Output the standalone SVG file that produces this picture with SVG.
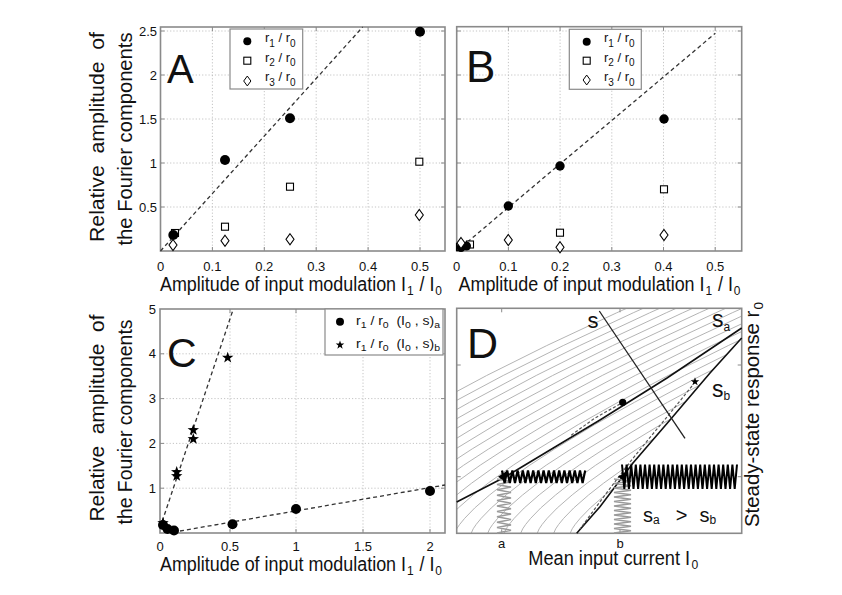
<svg xmlns="http://www.w3.org/2000/svg" xmlns:xlink="http://www.w3.org/1999/xlink" width="842" height="595" viewBox="0 0 842 595">
<style>
.t{font-family:"Liberation Sans",Arial,Helvetica,sans-serif;fill:#111}
.tick{font-size:13px}
.lab{font-size:19.5px}
.leg{font-size:13px}
.frame{fill:none;stroke:#8a8a8a;stroke-width:1.6}
.tk{fill:none;stroke:#8a8a8a;stroke-width:1}
.grid{fill:none;stroke:#b5b5b5;stroke-width:0.8;stroke-dasharray:1.2,2}
.fit{fill:none;stroke:#333;stroke-width:1.3;stroke-dasharray:4,3}
.dot{fill:#000}
.open{fill:#fff;stroke:#000;stroke-width:1.1}
.lbox{fill:#fff;stroke:#8a8a8a;stroke-width:1.2}
.gc{fill:none;stroke:#b4b4b4;stroke-width:1}
</style>
<defs>
<path id="star" d="M0,-6 L1.41,-1.94 L5.71,-1.86 L2.28,0.74 L3.53,4.85 L0,2.4 L-3.53,4.85 L-2.28,0.74 L-5.71,-1.86 L-1.41,-1.94 Z"/>
<path id="dia" d="M0,-5.5 L4,0 L0,5.5 L-4,0 Z"/>
<rect id="sq" x="-3.5" y="-3.5" width="7" height="7"/>
<polyline id="gcurve" points="0,0 2,-4.5 5,-8.9 10,-15 20,-25.3 35,-38.4 50,-50.2 75,-68.1 100,-84.4 140,-108.7 180,-131.1 230,-157.8 290,-187.7 360,-220.5 440,-256.5 500,-282.3"/>
<clipPath id="clipD"><polygon points="456.7,308.3 741.7,308.3 741.7,338 710,373 670,420 633,463 600,506.7 576.7,533.3 456.7,533.3"/></clipPath>
</defs>
<rect width="842" height="595" fill="#fff"/>

<!-- Panel A -->
<g id="panelA">
<path class="grid" d="M212.4,27V251M264.3,27V251M316.2,27V251M368.1,27V251M420,27V251M160.5,207H445M160.5,163H445M160.5,119H445M160.5,75H445M160.5,31H445"/>
<path class="tk" d="M212.4,251v-4M264.3,251v-4M316.2,251v-4M368.1,251v-4M420,251v-4M212.4,27v4M264.3,27v4M316.2,27v4M368.1,27v4M420,27v4M160.5,207h4M160.5,163h4M160.5,119h4M160.5,75h4M160.5,31h4M445,207h-4M445,163h-4M445,119h-4M445,75h-4M445,31h-4"/>
<rect class="frame" x="160.5" y="27" width="284.5" height="224"/>
<path class="fit" d="M160.5,251 L362.7,27"/>
<use href="#sq" class="open" x="175" y="233"/>
<use href="#sq" class="open" x="225" y="226.7"/>
<use href="#sq" class="open" x="290" y="186.7"/>
<use href="#sq" class="open" x="419.3" y="161.7"/>
<circle class="dot" cx="173.3" cy="235" r="5"/>
<circle class="dot" cx="225" cy="160" r="5"/>
<circle class="dot" cx="290" cy="118.3" r="5"/>
<circle class="dot" cx="420" cy="31.7" r="5"/>
<use href="#dia" class="open" x="173" y="245"/>
<use href="#dia" class="open" x="225" y="240.7"/>
<use href="#dia" class="open" x="290" y="239.3"/>
<use href="#dia" class="open" x="419.3" y="215"/>
<g id="legendA">
<rect class="lbox" x="230" y="29" width="72.7" height="60"/>
<circle class="dot" cx="247.3" cy="41.3" r="4"/>
<use href="#sq" class="open" x="247.3" y="60.7"/>
<use href="#dia" class="open" transform="translate(247.3,81) scale(0.9)"/>
<text class="t leg" x="265" y="42">r<tspan font-size="10" dy="4.5">1</tspan><tspan dy="-4.5"> / r</tspan><tspan font-size="10" dy="4.5">0</tspan></text>
<text class="t leg" x="265" y="61.5">r<tspan font-size="10" dy="4.5">2</tspan><tspan dy="-4.5"> / r</tspan><tspan font-size="10" dy="4.5">0</tspan></text>
<text class="t leg" x="265" y="81">r<tspan font-size="10" dy="4.5">3</tspan><tspan dy="-4.5"> / r</tspan><tspan font-size="10" dy="4.5">0</tspan></text>
</g>
<text class="t" x="167" y="82.7" font-size="40">A</text>
<g class="t tick" text-anchor="middle">
<text x="160.5" y="271">0</text><text x="212.4" y="271">0.1</text><text x="264.3" y="271">0.2</text><text x="316.2" y="271">0.3</text><text x="368.1" y="271">0.4</text><text x="420" y="271">0.5</text>
</g>
<g class="t tick" text-anchor="end">
<text x="157" y="211.5">0.5</text><text x="157" y="167.5">1</text><text x="157" y="123.5">1.5</text><text x="157" y="79.5">2</text><text x="157" y="35.5">2.5</text>
</g>
<text class="t lab" xml:space="preserve" transform="translate(103.5,137) rotate(-90)" text-anchor="middle" textLength="210" lengthAdjust="spacingAndGlyphs">Relative  amplitude  of</text>
<text class="t lab" transform="translate(131.5,139) rotate(-90)" text-anchor="middle" textLength="213" lengthAdjust="spacingAndGlyphs">the Fourier components</text>
<text class="t lab" x="301" y="290.5" text-anchor="middle" textLength="282" lengthAdjust="spacingAndGlyphs">Amplitude of input modulation I<tspan font-size="13" dy="4" dx="1">1</tspan><tspan dy="-4" dx="1"> / I</tspan><tspan font-size="13" dy="4" dx="1">0</tspan></text>
</g>

<!-- Panel B -->
<g id="panelB">
<path class="grid" d="M508.4,26.7V251M560.1,26.7V251M611.8,26.7V251M663.5,26.7V251M715.2,26.7V251M456.7,207H741.7M456.7,163H741.7M456.7,119H741.7M456.7,75H741.7M456.7,31H741.7"/>
<path class="tk" d="M508.4,251v-4M560.1,251v-4M611.8,251v-4M663.5,251v-4M715.2,251v-4M508.4,26.7v4M560.1,26.7v4M611.8,26.7v4M663.5,26.7v4M715.2,26.7v4M456.7,207h4M456.7,163h4M456.7,119h4M456.7,75h4M456.7,31h4M741.7,207h-4M741.7,163h-4M741.7,119h-4M741.7,75h-4M741.7,31h-4"/>
<rect class="frame" x="456.7" y="26.7" width="285" height="224.3"/>
<path class="fit" d="M456.7,251 L715.3,33.3"/>
<use href="#sq" class="open" x="560" y="232.7"/>
<use href="#sq" class="open" x="664" y="189.3"/>
<use href="#sq" class="open" x="460" y="247"/>
<use href="#sq" class="open" x="470" y="244.5"/>
<circle class="dot" cx="508.3" cy="206" r="4.7"/>
<circle class="dot" cx="560" cy="166" r="4.7"/>
<circle class="dot" cx="664" cy="119" r="4.7"/>
<circle class="dot" cx="461" cy="247.5" r="4.5"/>
<circle class="dot" cx="466.5" cy="246" r="4.5"/>
<use href="#dia" class="open" x="508.3" y="240"/>
<use href="#dia" class="open" x="560" y="247.3"/>
<use href="#dia" class="open" x="664" y="235"/>
<use href="#dia" class="open" x="461" y="243"/>
<g id="legendB">
<rect class="lbox" x="569.3" y="29.3" width="72" height="60"/>
<circle class="dot" cx="586.7" cy="41.7" r="4"/>
<use href="#sq" class="open" x="586.7" y="60.7"/>
<use href="#dia" class="open" transform="translate(586.7,80) scale(0.9)"/>
<text class="t leg" x="604" y="42">r<tspan font-size="10" dy="4.5">1</tspan><tspan dy="-4.5"> / r</tspan><tspan font-size="10" dy="4.5">0</tspan></text>
<text class="t leg" x="604" y="61.5">r<tspan font-size="10" dy="4.5">2</tspan><tspan dy="-4.5"> / r</tspan><tspan font-size="10" dy="4.5">0</tspan></text>
<text class="t leg" x="604" y="81">r<tspan font-size="10" dy="4.5">3</tspan><tspan dy="-4.5"> / r</tspan><tspan font-size="10" dy="4.5">0</tspan></text>
</g>
<text class="t" x="466" y="81.7" font-size="44">B</text>
<g class="t tick" text-anchor="middle">
<text x="456.7" y="271">0</text><text x="508.4" y="271">0.1</text><text x="560.1" y="271">0.2</text><text x="611.8" y="271">0.3</text><text x="663.5" y="271">0.4</text><text x="715.2" y="271">0.5</text>
</g>
<text class="t lab" x="599.5" y="290.5" text-anchor="middle" textLength="282" lengthAdjust="spacingAndGlyphs">Amplitude of input modulation I<tspan font-size="13" dy="4" dx="1">1</tspan><tspan dy="-4" dx="1"> / I</tspan><tspan font-size="13" dy="4" dx="1">0</tspan></text>
</g>

<!-- Panel C -->
<g id="panelC">
<path class="grid" d="M230,309V533M296,309V533M363,309V533M430,309V533M160,488.2H445M160,443.4H445M160,398.6H445M160,353.8H445"/>
<path class="tk" d="M230,533v-4M296,533v-4M363,533v-4M430,533v-4M230,309v4M296,309v4M363,309v4M430,309v4M160,488.2h4M160,443.4h4M160,398.6h4M160,353.8h4M445,488.2h-4M445,443.4h-4M445,398.6h-4M445,353.8h-4"/>
<rect class="frame" x="160" y="309" width="285" height="224"/>
<path class="fit" d="M160,528 L233.3,309"/>
<path class="fit" d="M180,531 L445,485"/>
<circle class="dot" cx="163" cy="525" r="5"/>
<circle class="dot" cx="167.5" cy="529" r="5"/>
<circle class="dot" cx="174" cy="530.5" r="5"/>
<circle class="dot" cx="232.5" cy="524.3" r="5"/>
<circle class="dot" cx="296" cy="509" r="5"/>
<circle class="dot" cx="430" cy="491" r="5"/>
<use href="#star" x="163" y="523"/>
<use href="#star" x="176.7" y="476"/>
<use href="#star" x="176.7" y="472"/>
<use href="#star" x="193.3" y="439"/>
<use href="#star" x="193.3" y="430"/>
<use href="#star" x="227.7" y="357.7"/>
<g id="legendC">
<rect class="lbox" x="325" y="309" width="118" height="46"/>
<circle class="dot" cx="340" cy="321.7" r="4"/>
<use href="#star" transform="translate(340,345) scale(0.75)"/>
<text class="t" font-size="12" x="356" y="325" xml:space="preserve" textLength="84" lengthAdjust="spacingAndGlyphs">r<tspan font-size="9" dy="3">1</tspan><tspan dy="-3"> / r</tspan><tspan font-size="9" dy="3">0</tspan><tspan dy="-3">  (I</tspan><tspan font-size="9" dy="3">0</tspan><tspan dy="-3"> , s)</tspan><tspan font-size="9" dy="3">a</tspan></text>
<text class="t" font-size="12" x="356" y="348" xml:space="preserve" textLength="84" lengthAdjust="spacingAndGlyphs">r<tspan font-size="9" dy="3">1</tspan><tspan dy="-3"> / r</tspan><tspan font-size="9" dy="3">0</tspan><tspan dy="-3">  (I</tspan><tspan font-size="9" dy="3">0</tspan><tspan dy="-3"> , s)</tspan><tspan font-size="9" dy="3">b</tspan></text>
</g>
<text class="t" x="167" y="367" font-size="41">C</text>
<g class="t tick" text-anchor="middle">
<text x="160" y="551">0</text><text x="230" y="551">0.5</text><text x="296" y="551">1</text><text x="363" y="551">1.5</text><text x="430" y="551">2</text>
</g>
<g class="t tick" text-anchor="end">
<text x="156" y="492.7">1</text><text x="156" y="447.9">2</text><text x="156" y="403.1">3</text><text x="156" y="358.3">4</text><text x="156" y="313.5">5</text>
</g>
<text class="t lab" xml:space="preserve" transform="translate(103.5,418) rotate(-90)" text-anchor="middle" textLength="207" lengthAdjust="spacingAndGlyphs">Relative  amplitude  of</text>
<text class="t lab" transform="translate(131.5,422) rotate(-90)" text-anchor="middle" textLength="205" lengthAdjust="spacingAndGlyphs">the Fourier components</text>
<text class="t lab" x="301" y="570.5" text-anchor="middle" textLength="282" lengthAdjust="spacingAndGlyphs">Amplitude of input modulation I<tspan font-size="13" dy="4" dx="1">1</tspan><tspan dy="-4" dx="1"> / I</tspan><tspan font-size="13" dy="4" dx="1">0</tspan></text>
</g>

<!-- Panel D -->
<g id="panelD">
<g clip-path="url(#clipD)">
<g class="gc" transform="translate(456.7,533.3)">
<use href="#gcurve" x="-200"/><use href="#gcurve" x="-183.5"/><use href="#gcurve" x="-167"/><use href="#gcurve" x="-150.5"/><use href="#gcurve" x="-134"/><use href="#gcurve" x="-117.5"/><use href="#gcurve" x="-101"/><use href="#gcurve" x="-84.5"/><use href="#gcurve" x="-68"/><use href="#gcurve" x="-51.5"/><use href="#gcurve" x="-35"/><use href="#gcurve" x="-18.5"/><use href="#gcurve" x="-2"/><use href="#gcurve" x="14.5"/><use href="#gcurve" x="31"/><use href="#gcurve" x="47.5"/><use href="#gcurve" x="64"/><use href="#gcurve" x="80.5"/><use href="#gcurve" x="97"/><use href="#gcurve" x="113.5"/>
</g>
</g>
<path class="tk" d="M501.7,533.3v-4M620,533.3v-4M501.7,308.3v4M620,308.3v4M456.7,365h4M456.7,476.7h4M741.7,365h-4M741.7,476.7h-4"/>
<rect class="frame" x="456.7" y="308.3" width="285" height="225"/>
<polyline fill="none" stroke="#111" stroke-width="1.6" points="456.7,502 505,477 555,447 600,420 667,378 741.7,328"/>
<polyline fill="none" stroke="#111" stroke-width="1.6" points="576.7,533.3 600,506.7 633,463 670,420 710,373 741.7,338"/>
<path fill="none" stroke="#555" stroke-width="1.2" stroke-dasharray="3,2" d="M620,404 L595,418 L570,436"/>
<path fill="none" stroke="#555" stroke-width="1.2" stroke-dasharray="3,2" d="M692,386 L667,417 L652,435 L630,462 L605,495 L580,529"/>
<path fill="none" stroke="#222" stroke-width="1.3" d="M599.3,311 L685,438.3"/>
<circle class="dot" cx="622.7" cy="402.3" r="3.6"/>
<use href="#star" transform="translate(695,381.7) scale(0.75)"/>
<path fill="none" stroke="#9a9a9a" stroke-width="1.5" d="M497,479 l14,2.7 l-14,2.7 l14,2.7 l-14,2.7 l14,2.7 l-14,2.7 l14,2.7 l-14,2.7 l14,2.7 l-14,2.7 l14,2.7 l-14,2.7 l14,2.7 l-14,2.7 l14,2.7 l-14,2.7 l14,2.7 l-14,2.7 l14,2.7 l-14,2.7"/>
<path fill="none" stroke="#9a9a9a" stroke-width="1.5" d="M614,479 l17,2.25 l-17,2.25 l17,2.25 l-17,2.25 l17,2.25 l-17,2.25 l17,2.25 l-17,2.25 l17,2.25 l-17,2.25 l17,2.25 l-17,2.25 l17,2.25 l-17,2.25 l17,2.25 l-17,2.25 l17,2.25 l-17,2.25 l17,2.25 l-17,2.25 l17,2.25 l-17,2.25 l17,2.25 l-17,2.25"/>
<path fill="none" stroke="#000" stroke-width="2.2" d="M502,470.5 l2.6,12.4 l2.6,-12.4 l2.6,12.4 l2.6,-12.4 l2.6,12.4 l2.6,-12.4 l2.6,12.4 l2.6,-12.4 l2.6,12.4 l2.6,-12.4 l2.6,12.4 l2.6,-12.4 l2.6,12.4 l2.6,-12.4 l2.6,12.4 l2.6,-12.4 l2.6,12.4 l2.6,-12.4 l2.6,12.4 l2.6,-12.4 l2.6,12.4 l2.6,-12.4 l2.6,12.4 l2.6,-12.4 l2.6,12.4 l2.6,-12.4 l2.6,12.4 l2.6,-12.4 l2.6,12.4 l2.6,-12.4 l2.6,12.4 l2.6,-12.4"/>
<path fill="#000" d="M498,476.7 L506,471.5 L506,482 Z"/>
<path fill="none" stroke="#000" stroke-width="2" d="M622,464.5 l2.3,24.4 l2.3,-24.4 l2.3,24.4 l2.3,-24.4 l2.3,24.4 l2.3,-24.4 l2.3,24.4 l2.3,-24.4 l2.3,24.4 l2.3,-24.4 l2.3,24.4 l2.3,-24.4 l2.3,24.4 l2.3,-24.4 l2.3,24.4 l2.3,-24.4 l2.3,24.4 l2.3,-24.4 l2.3,24.4 l2.3,-24.4 l2.3,24.4 l2.3,-24.4 l2.3,24.4 l2.3,-24.4 l2.3,24.4 l2.3,-24.4 l2.3,24.4 l2.3,-24.4 l2.3,24.4 l2.3,-24.4 l2.3,24.4 l2.3,-24.4 l2.3,24.4 l2.3,-24.4 l2.3,24.4 l2.3,-24.4 l2.3,24.4 l2.3,-24.4 l2.3,24.4 l2.3,-24.4 l2.3,24.4 l2.3,-24.4 l2.3,24.4 l2.3,-24.4 l2.3,24.4 l2.3,-24.4 l2.3,24.4 l2.3,-24.4 l2.3,24.4 l2.3,-24.4"/>
<path fill="#000" d="M618,476.7 L626,471.5 L626,482 Z"/>
<text class="t" x="467" y="358" font-size="43">D</text>
<text class="t" x="587.5" y="328" font-size="22">s</text>
<text class="t" x="712" y="327" font-size="23">s<tspan font-size="12" dy="4">a</tspan></text>
<text class="t" x="712" y="396.5" font-size="23">s<tspan font-size="12" dy="3">b</tspan></text>
<text class="t" x="643" y="522" font-size="20">s<tspan font-size="12" dy="2">a</tspan><tspan dy="-2" dx="16">&gt;</tspan><tspan dx="12">s</tspan><tspan font-size="12" dy="2">b</tspan></text>
<text class="t tick" x="501.7" y="548" text-anchor="middle" font-size="14">a</text>
<text class="t tick" x="620" y="548" text-anchor="middle" font-size="14">b</text>
<text class="t lab" x="613.3" y="565" text-anchor="middle" textLength="170" lengthAdjust="spacingAndGlyphs">Mean input current I<tspan font-size="13" dy="4" dx="1.5">0</tspan></text>
<text class="t lab" transform="translate(759,414.5) rotate(-90)" text-anchor="middle" textLength="225" lengthAdjust="spacingAndGlyphs">Steady-state response r<tspan font-size="13" dy="4" dx="1">0</tspan></text>
</g>
</svg>
